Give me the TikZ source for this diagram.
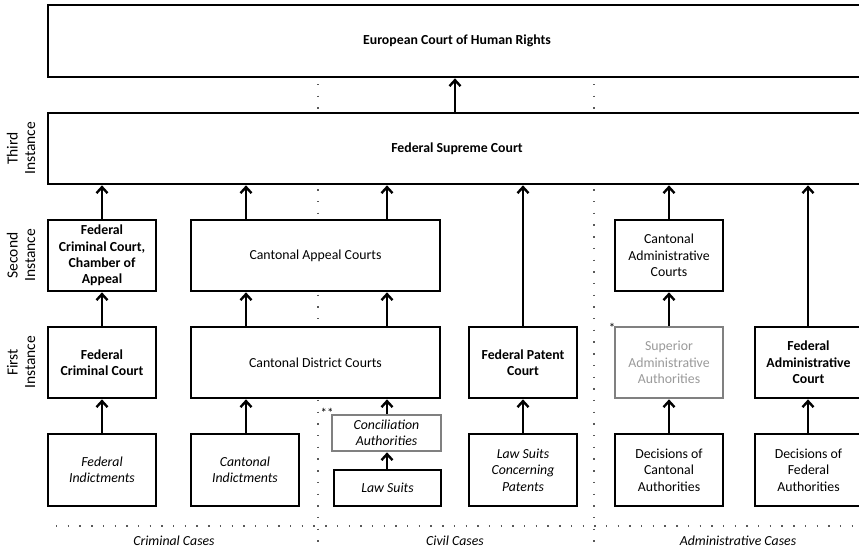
\documentclass[tikz,border=0pt]{standalone}
\usepackage{fontspec}
\setmainfont{Carlito}
\usetikzlibrary{arrows.meta}
\definecolor{boxgray}{HTML}{808080}
\definecolor{txtgray}{HTML}{9A9A9A}
\tikzset{
  box/.style={draw=black, line width=2.7pt, fill=white, rectangle, inner sep=2pt, align=center,
    font=\fontsize{13.8}{16.3}\selectfont},
  bbox/.style={box, font=\fontsize{13.8}{16.3}\selectfont\bfseries},
  ibox/.style={box, font=\fontsize{13.8}{16.3}\selectfont\itshape},
  graybox/.style={draw=boxgray},
  arr/.style={line width=2.7pt, -{Straight Barb[length=6pt,width=11pt,line width=2.4pt]}},
  dotline/.style={line width=1.4pt, draw=black!65, dash pattern=on 1.4pt off 10.3pt},
  rowlab/.style={rotate=90, align=center, font=\fontsize{15.5}{17.5}\selectfont},
  caselab/.style={font=\fontsize{13.8}{16.3}\selectfont\itshape},
  star/.style={font=\fontsize{13}{13}\selectfont, inner sep=0pt}
}
\begin{document}
\begin{tikzpicture}[x=1pt,y=-1pt]
\useasboundingbox (0,0) rectangle (859,551);
\clip (0,0) rectangle (859,551);
% dotted separators (behind boxes)
\coordinate (sep1a) at (318,84);
\coordinate (sep1b) at (318,553);
\coordinate (sep2a) at (594,84);
\coordinate (sep2b) at (594,553);
\coordinate (hsa) at (56,526);
\coordinate (hsb) at (862,526);
\draw[dotline] (sep1a) -- (sep1b);
\draw[dotline] (sep2a) -- (sep2b);
\draw[dotline] (hsa) -- (hsb);
% boxes
\node[bbox, minimum width=818pt, minimum height=72pt] (echr) at (457,41) {European Court of Human Rights};
\node[bbox, minimum width=818pt, minimum height=71pt] (fsc) at (457,148.5) {Federal Supreme Court};
\node[bbox, minimum width=108pt, minimum height=71pt] (fcca) at (102,255.5) {Federal\\Criminal Court,\\Chamber of\\Appeal};
\node[box, minimum width=249pt, minimum height=71pt] (cac) at (315.5,255.5) {Cantonal Appeal Courts};
\node[box, minimum width=108pt, minimum height=71pt] (cadm) at (669,255.5) {Cantonal\\Administrative\\Courts};
\node[bbox, minimum width=108pt, minimum height=71pt] (fcc) at (102,362.5) {Federal\\Criminal Court};
\node[box, minimum width=249pt, minimum height=71pt] (cdc) at (315.5,362.5) {Cantonal District Courts};
\node[bbox, minimum width=108pt, minimum height=71pt] (fpc) at (523,362.5) {Federal Patent\\Court};
\node[box, graybox, minimum width=108pt, minimum height=71pt, text=txtgray] (saa) at (669,362.5) {Superior\\Administrative\\Authorities};
\node[bbox, minimum width=107pt, minimum height=71pt] (fac) at (808.5,362.5) {Federal\\Administrative\\Court};
\node[ibox, minimum width=108pt, minimum height=72pt] (find) at (102,470) {Federal\\Indictments};
\node[ibox, minimum width=108pt, minimum height=72pt] (cind) at (245,470) {Cantonal\\Indictments};
\node[ibox, graybox, minimum width=109pt, minimum height=36pt] (conc) at (386.5,433) {Conciliation\\Authorities};
\node[ibox, minimum width=107pt, minimum height=36pt] (lsuit) at (387.5,488) {Law Suits};
\node[ibox, minimum width=108pt, minimum height=72pt] (lscp) at (523,470) {Law Suits\\Concerning\\Patents};
\node[box, minimum width=108pt, minimum height=72pt] (dca) at (669,470) {Decisions of\\Cantonal\\Authorities};
\node[box, minimum width=107pt, minimum height=72pt] (dfa) at (808.5,470) {Decisions of\\Federal\\Authorities};
% stars
\node[star] (s2) at (327,413) {**};
\node[star] (s1) at (612,328) {*};
% row labels
\node[rowlab] (l3) at (21,148.5) {Third\\Instance};
\node[rowlab] (l2) at (21,255.5) {Second\\Instance};
\node[rowlab] (l1) at (21,362.5) {First\\Instance};
% case labels
\node[caselab] (cc) at (174,541) {Criminal Cases};
\node[caselab] (cv) at (455,541) {Civil Cases};
\node[caselab] (ad) at (738,541) {Administrative Cases};
% arrow x positions
\coordinate (xa) at (102,0);
\coordinate (xb) at (246,0);
\coordinate (xc) at (387,0);
\coordinate (xd) at (523,0);
\coordinate (xe) at (669,0);
\coordinate (xf) at (808,0);
\coordinate (xg) at (455,0);
% arrows
\draw[arr] (xg |- fsc.north) -- (xg |- echr.south);
\draw[arr] (xa |- fcca.north) -- (xa |- fsc.south);
\draw[arr] (xb |- cac.north) -- (xb |- fsc.south);
\draw[arr] (xc |- cac.north) -- (xc |- fsc.south);
\draw[arr] (xd |- fpc.north) -- (xd |- fsc.south);
\draw[arr] (xe |- cadm.north) -- (xe |- fsc.south);
\draw[arr] (xf |- fac.north) -- (xf |- fsc.south);
\draw[arr] (xa |- fcc.north) -- (xa |- fcca.south);
\draw[arr] (xb |- cdc.north) -- (xb |- cac.south);
\draw[arr] (xc |- cdc.north) -- (xc |- cac.south);
\draw[arr] (xe |- saa.north) -- (xe |- cadm.south);
\draw[arr] (xa |- find.north) -- (xa |- fcc.south);
\draw[arr] (xb |- cind.north) -- (xb |- cdc.south);
\draw[arr] (xc |- conc.north) -- (xc |- cdc.south);
\draw[arr] (xc |- lsuit.north) -- (xc |- conc.south);
\draw[arr] (xd |- lscp.north) -- (xd |- fpc.south);
\draw[arr] (xe |- dca.north) -- (xe |- saa.south);
\draw[arr] (xf |- dfa.north) -- (xf |- fac.south);
\end{tikzpicture}
\end{document}
